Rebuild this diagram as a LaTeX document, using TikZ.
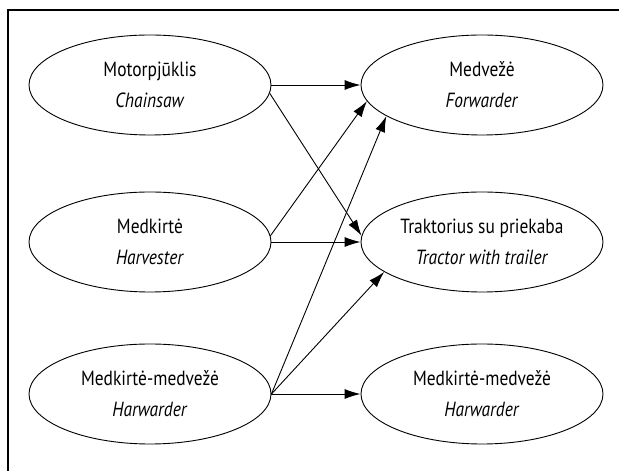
\documentclass[tikz,border=0pt]{standalone}
\usepackage{fontspec}
\setmainfont[FakeStretch=0.85]{PT Sans}
\usetikzlibrary{arrows.meta,shapes.geometric}
\newcommand{\twolines}[2]{\rule{0pt}{15pt}\smash{#1}\\\textit{#2}}
\begin{document}
\begin{tikzpicture}[x=1pt,y=1pt,
  blob/.style={ellipse,draw,line width=0.9pt,minimum width=242pt,minimum height=100pt,inner sep=0pt,align=center,font=\fontsize{20.5}{31}\selectfont},
  link/.style={line width=0.9pt,-{Latex[length=16pt,width=10pt]}},
  frame/.style={line width=1.2pt}]
\useasboundingbox (0,0) rectangle (619,471);
\coordinate (f1) at (8,0);
\coordinate (f2) at (8,461);
\coordinate (f3) at (619,461);
\draw[frame] (f1) -- (f2) -- (f3);
\node[blob] (a1) at (150,386) {\twolines{Motorpjūklis}{Chainsaw}};
\node[blob] (a2) at (150,229) {\twolines{Medkirtė}{Harvester}};
\node[blob] (a3) at (150,77) {\twolines{Medkirtė-medvežė}{Harwarder}};
\node[blob] (b1) at (482,386) {\twolines{Medvežė}{Forwarder}};
\node[blob] (b2) at (482,229) {\twolines{Traktorius su priekaba}{Tractor with trailer}};
\node[blob] (b3) at (482,77) {\twolines{Medkirtė-medvežė}{Harwarder}};
\draw[link] (a1.east) -- (b1.west);
\draw[link] (a1.-4) -- (b2.177);
\draw[link] (a2.3) -- (b1.188);
\draw[link] (a2.east) -- (b2.west);
\draw[link] (a3.east) -- (b1.198);
\draw[link] (a3.east) -- (b2.197);
\draw[link] (a3.east) -- (b3.west);
\end{tikzpicture}
\end{document}
